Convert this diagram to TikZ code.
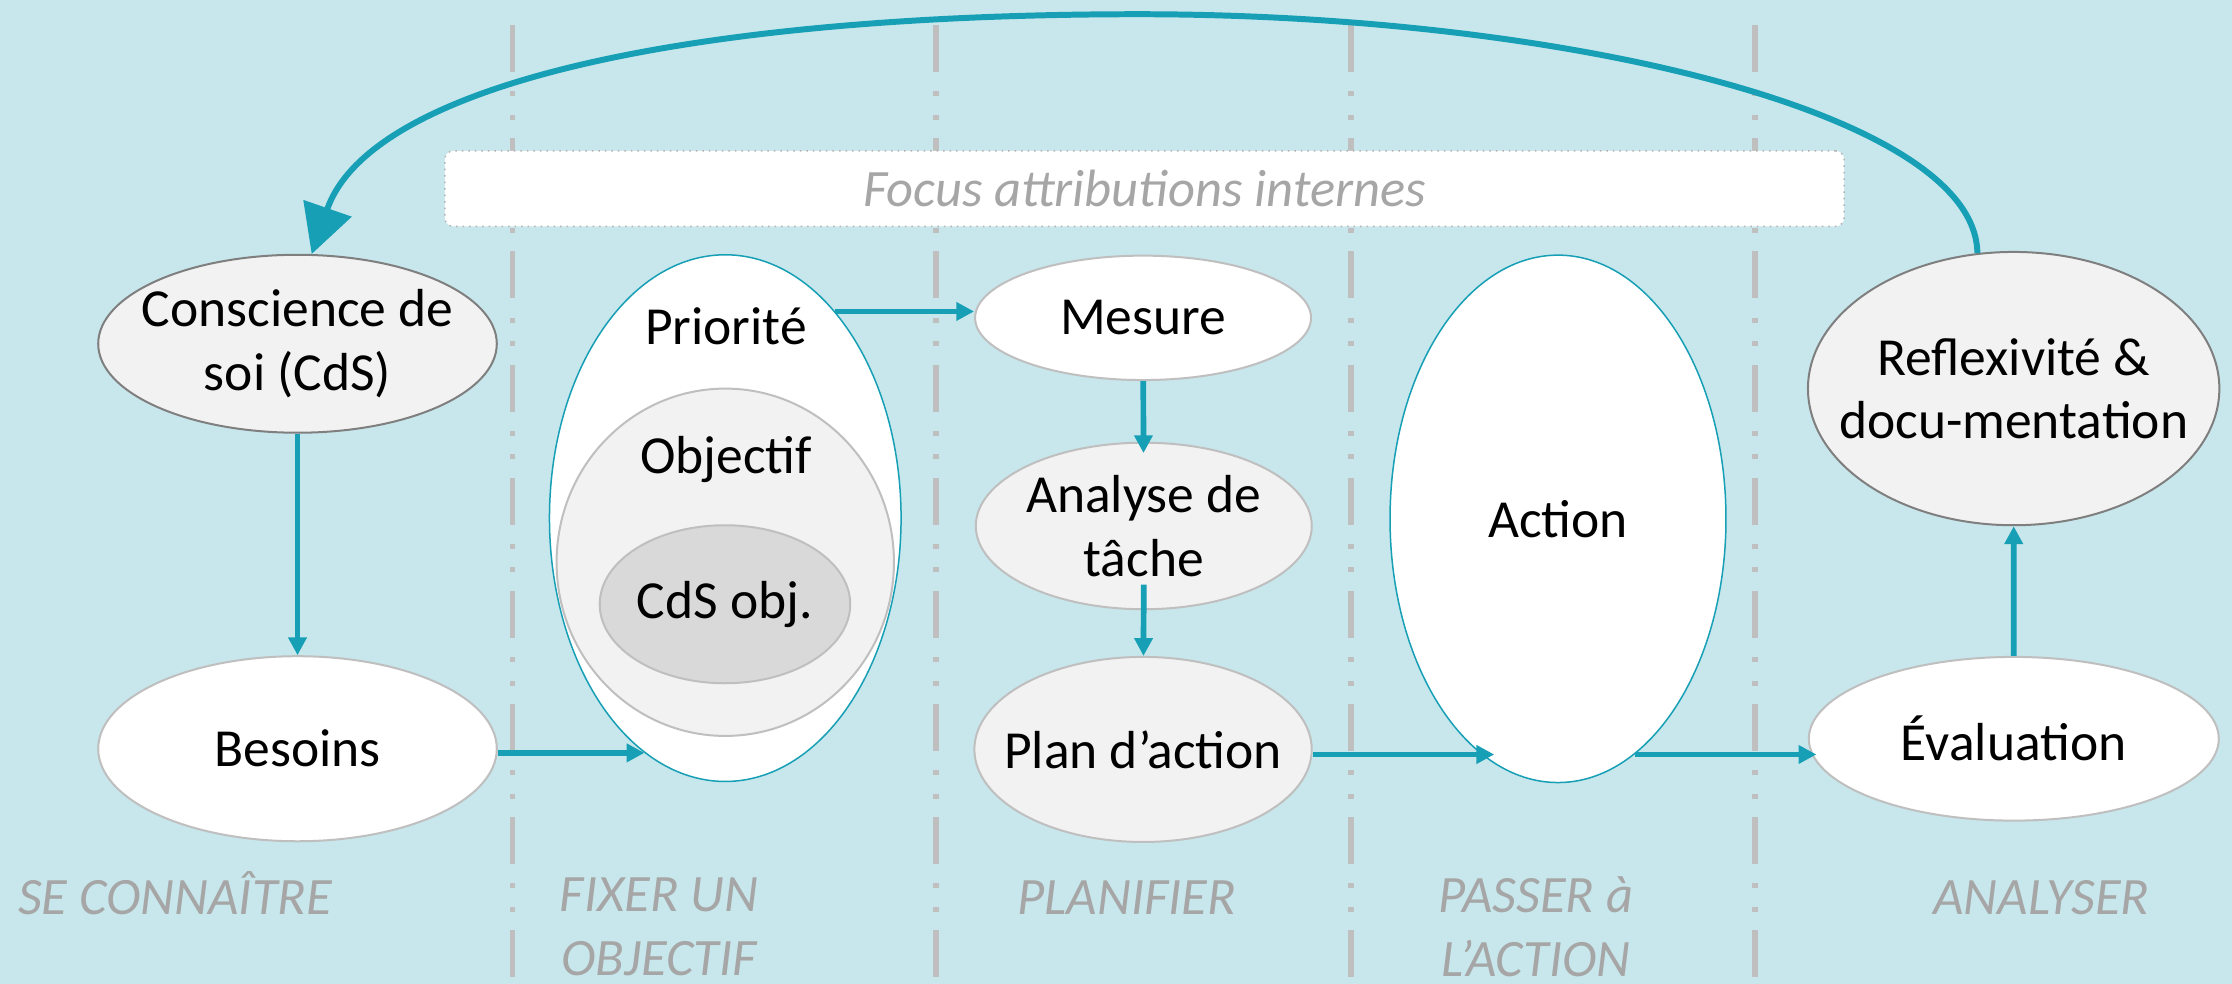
\documentclass[tikz,border=0pt]{standalone}
\usepackage{fontspec}
\setmainfont{Carlito}
\usetikzlibrary{shapes.geometric,arrows.meta}
\definecolor{bgblue}{HTML}{C8E7EC}
\definecolor{arrowteal}{HTML}{179FB5}
\definecolor{divgray}{HTML}{BFBFBF}
\definecolor{labelgray}{HTML}{A6A6A6}
\definecolor{lightfill}{HTML}{F2F2F2}
\definecolor{midfill}{HTML}{D9D9D9}
\definecolor{darkedge}{HTML}{7F7F7F}

\begin{document}
\begin{tikzpicture}[x=1cm,y=-1cm,
    txt/.style={font=\fontsize{10.7}{12.7}\selectfont, align=center},
    stage/.style={txt, text=labelgray, font=\fontsize{10.5}{12.7}\selectfont\itshape},
    oval/.style={ellipse, txt, draw=divgray, line width=0.4pt, fill=white, inner sep=-1cm},
    bigoval/.style={oval, draw=arrowteal, line width=0.3pt}]

\fill[bgblue] (0,0) rectangle (15.68,6.91);
\useasboundingbox (0,0) rectangle (15.68,6.91);

\foreach \x in {3.60,6.575,9.49,12.33}
    \draw[divgray, line width=0.04cm, dash pattern=on 0.33cm off 0.135cm on 0.035cm off 0.13cm on 0.035cm off 0.13cm] (\x,0.176) -- (\x,6.91);

\node (focus)[stage, rectangle, rounded corners=0.06cm, fill=white, draw=gray!60, densely dotted, line width=0.3pt, minimum width=9.83cm, minimum height=0.53cm] at (8.04,1.325) {Focus attributions internes};

\begin{scope}[every node/.style={oval}]
    \node (cds)[fill=lightfill, draw=darkedge, minimum width=2.8cm, minimum height=1.25cm] at (2.09,2.415) {Conscience de\\soi (CdS)};
    \node (besoins)[minimum width=2.8cm, minimum height=1.3cm] at (2.09,5.26) {Besoins};
    \node (prio)[bigoval, minimum width=2.47cm, minimum height=3.7cm] at (5.095,3.64) {};
    \node (obj)[fill=lightfill, minimum width=2.37cm, minimum height=2.44cm] at (5.095,3.95) {};
    \node (cdsobj)[fill=midfill, minimum width=1.76cm, minimum height=1.11cm] at (5.093,4.245) {CdS obj.};
    \node (mesure)[minimum width=2.36cm, minimum height=0.874cm] at (8.03,2.233) {Mesure};
    \node (analyse)[fill=lightfill, minimum width=2.36cm, minimum height=1.17cm] at (8.035,3.695) {Analyse de\\tâche};
    \node (plan)[fill=lightfill, minimum width=2.37cm, minimum height=1.3cm] at (8.03,5.265) {Plan d’action};
    \node (act)[bigoval, minimum width=2.36cm, minimum height=3.705cm] at (10.945,3.645) {Action};
    \node (eval)[minimum width=2.88cm, minimum height=1.15cm] at (14.147,5.19) {Évaluation};
    \node (reflex)[fill=lightfill, draw=darkedge, minimum width=2.89cm, minimum height=1.92cm] at (14.146,2.73) {Reflexivité \&\\docu-mentation};
\end{scope}

\node (priotxt)[txt, anchor=base] at (5.10,2.422) {Priorité};
\node (objtxt)[txt, anchor=base] at (5.10,3.329) {Objectif};

\begin{scope}[every edge/.style={draw=arrowteal, line width=0.04cm, -{Triangle[length=0.125cm,width=0.125cm]}}]
    \path (cds) edge (besoins);
    \path (prio.251 -| besoins.east) edge (prio.251);
    \path (prio.62) edge (prio.62 -| mesure.west);
    \path (mesure) edge[shorten >=-0.08cm] (analyse);
    \path ([yshift=0.18cm]analyse.south) edge (plan);
    \path (plan.east |- act.252) edge[shorten >=-0.09cm] (act.252);
    \path (act.288) edge[shorten >=-0.06cm] (act.288 -| eval.west);
    \path (eval) edge (reflex);
\end{scope}

\draw[arrowteal, line width=0.042cm, -{Triangle[length=0.34cm,width=0.35cm]}] (reflex.105) .. controls (13.88,0.80) and (11.0,0.10) .. (8.0,0.10) .. controls (4.8,0.10) and (2.6,0.60) .. (cds.81);

\node (se)[stage, anchor=base] at (1.23,6.426) {SE CONNAÎTRE};
\node (fixer)[stage] at (4.63,6.51) {FIXER UN\\OBJECTIF};
\node (plani)[stage, anchor=base] at (7.915,6.426) {PLANIFIER};
\node (passer)[stage] at (10.79,6.51) {PASSER à\\L’ACTION};
\node (analy)[stage, anchor=base] at (14.34,6.426) {ANALYSER};
\end{tikzpicture}
\end{document}
